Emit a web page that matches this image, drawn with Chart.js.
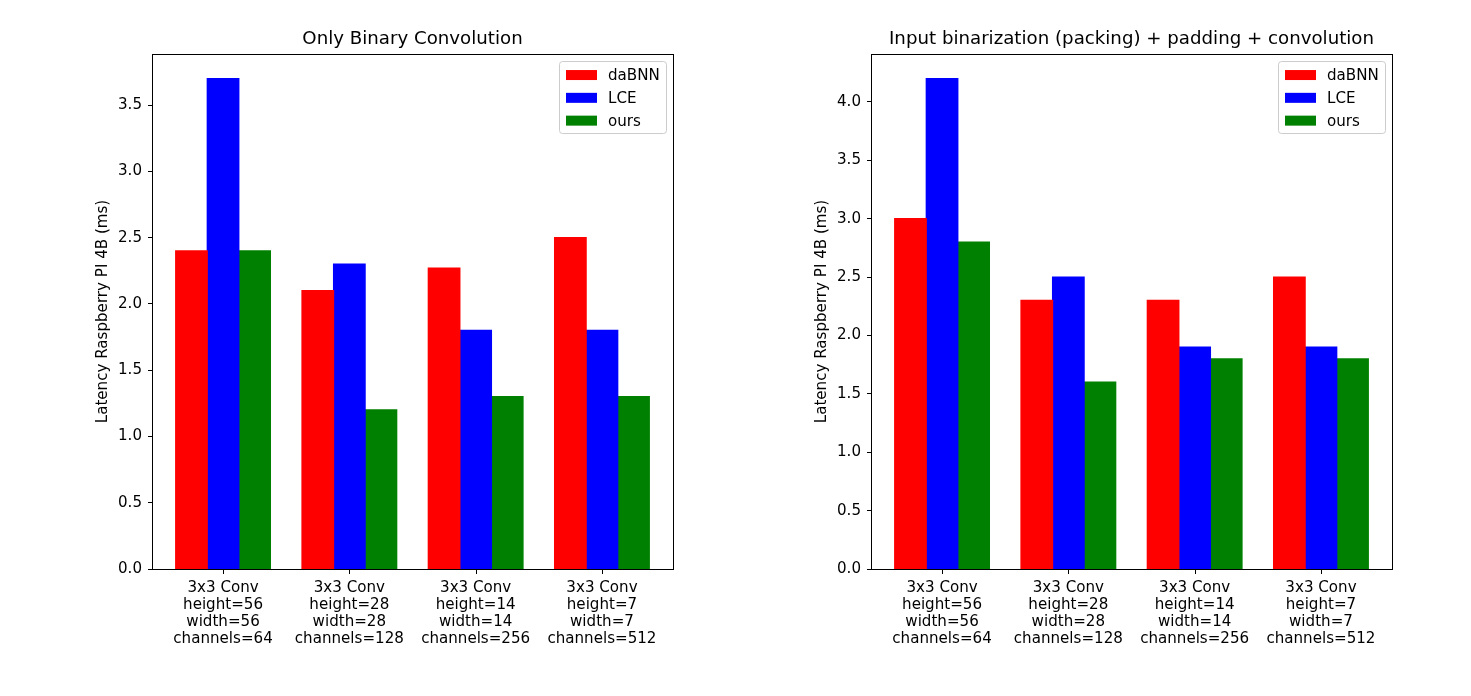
<!DOCTYPE html>
<html>
<head>
<meta charset="utf-8">
<script src="https://cdn.jsdelivr.net/npm/chart.js@4"></script>
<style>
  html, body { margin: 0; padding: 0; background: #fff; }
  body { width: 1471px; height: 696px; position: relative; overflow: hidden; }
  .plot { position: absolute; top: 0; height: 696px; }
</style>
</head>
<body>
<div class="plot" style="left:0;width:719px"><canvas id="leftChart"></canvas></div>
<div class="plot" style="left:719px;width:752px"><canvas id="rightChart"></canvas></div>
<script>
// categories (multi-line tick labels)
const categories = [
  ['3x3 Conv', 'height=56', 'width=56', 'channels=64'],
  ['3x3 Conv', 'height=28', 'width=28', 'channels=128'],
  ['3x3 Conv', 'height=14', 'width=14', 'channels=256'],
  ['3x3 Conv', 'height=7', 'width=7', 'channels=512'],
];
const seriesNames = ['daBNN', 'LCE', 'ours'];

// Only Binary Convolution
const convDabnn = [2.4, 2.1, 2.27, 2.5];
const convLce = [3.7, 2.3, 1.8, 1.8];
const convOurs = [2.4, 1.2, 1.3, 1.3];

// Input binarization (packing) + padding + convolution
const fullDabnn = [3.0, 2.3, 2.3, 2.5];
const fullLce = [4.2, 2.5, 1.9, 1.9];
const fullOurs = [2.8, 1.6, 1.8, 1.8];

const leftTicks = [0, 0.5, 1.0, 1.5, 2.0, 2.5, 3.0, 3.5];
const rightTicks = [0, 0.5, 1.0, 1.5, 2.0, 2.5, 3.0, 3.5, 4.0];

const colors = ['#ff0000', '#0000ff', '#008000'];
const FONT = 'DejaVu Sans';
const TICK_SIZE = 15.1;

// axes frame, x tick marks + matplotlib style legend
const framePlugin = {
  id: 'frame',
  afterDraw(chart) {
    const { ctx, chartArea: a } = chart;
    ctx.save();
    ctx.strokeStyle = '#000';
    ctx.lineWidth = 1;
    ctx.strokeRect(Math.round(a.left) + 0.5, Math.round(a.top) + 0.5,
      Math.round(a.right - a.left), Math.round(a.bottom - a.top));

    // x tick marks
    const xs = chart.scales.x;
    ctx.beginPath();
    xs.ticks.forEach((t) => {
      const px = Math.round(xs.getPixelForValue(t.value)) + 0.5;
      ctx.moveTo(px, Math.round(a.bottom) + 0.5);
      ctx.lineTo(px, Math.round(a.bottom) + 5);
    });
    ctx.stroke();

    // legend box
    const w = 107, h = 72;
    const x = a.right - 7 - w, y = a.top + 7;
    ctx.fillStyle = 'rgba(255,255,255,0.8)';
    ctx.strokeStyle = '#cccccc';
    ctx.beginPath();
    ctx.roundRect(x + 0.5, y + 0.5, w, h, 3);
    ctx.fill();
    ctx.stroke();
    ctx.font = `${TICK_SIZE}px "${FONT}"`;
    ctx.textBaseline = 'middle';
    chart.data.datasets.forEach((ds, i) => {
      const cy = y + 14 + i * 22.8;
      ctx.fillStyle = ds.backgroundColor;
      ctx.fillRect(x + 7, cy - 5, 31, 10);
      ctx.fillStyle = '#000';
      ctx.fillText(ds.label, x + 49, cy + 1);
    });
    ctx.restore();
  },
};

function makeChart(canvasId, title, series, yMax, yTicks, padRight) {
  const ctx = document.getElementById(canvasId).getContext('2d');
  return new Chart(ctx, {
    type: 'bar',
    data: {
      datasets: series.map((vals, i) => ({
        label: seriesNames[i],
        data: vals.map((v, k) => ({ x: k, y: v })),
        backgroundColor: colors[i],
        borderWidth: 0,
        inflateAmount: 0.6,
        barPercentage: 1.0,
        categoryPercentage: 0.75,
      })),
    },
    options: {
      responsive: true,
      maintainAspectRatio: false,
      animation: false,
      layout: { padding: { left: 0, right: padRight, top: 0, bottom: 0 } },
      plugins: {
        legend: { display: false },
        tooltip: { enabled: false },
        title: {
          display: true,
          text: title,
          fullSize: false,
          color: '#000',
          font: { family: FONT, size: 18.2, weight: 'normal', lineHeight: 1.2 },
          padding: { top: 28, bottom: 4.2 },
        },
      },
      scales: {
        x: {
          type: 'linear',
          offset: false,
          min: -0.5625,
          max: 3.5625,
          afterBuildTicks: (scale) => {
            scale.ticks = categories.map((_, k) => ({ value: k }));
          },
          afterFit: (scale) => { scale.height = 127; },
          grid: { display: false, tickLength: 4 },
          border: { display: false },
          ticks: {
            color: '#000',
            maxRotation: 0,
            autoSkip: false,
            padding: 7,
            font: { family: FONT, size: TICK_SIZE, lineHeight: 1.12 },
            callback: (v) => categories[v],
          },
        },
        y: {
          min: 0,
          max: yMax,
          afterBuildTicks: (scale) => {
            scale.ticks = yTicks.map((v) => ({ value: v }));
          },
          afterFit: (scale) => { scale.width = 152; },
          grid: { display: true, drawOnChartArea: false, tickLength: 4, color: '#000' },
          border: { display: false },
          ticks: {
            color: '#000',
            padding: 6,
            font: { family: FONT, size: TICK_SIZE },
            callback: (v) => v.toFixed(1),
          },
          title: {
            display: true,
            text: 'Latency Raspberry PI 4B (ms)',
            color: '#000',
            font: { family: FONT, size: TICK_SIZE },
            padding: { top: 94, bottom: 0 },
          },
        },
      },
    },
    plugins: [framePlugin],
  });
}

makeChart('leftChart', 'Only Binary Convolution',
  [convDabnn, convLce, convOurs], 3.885, leftTicks, 46);
makeChart('rightChart', 'Input binarization (packing) + padding + convolution',
  [fullDabnn, fullLce, fullOurs], 4.41, rightTicks, 79);
</script>
</body>
</html>
